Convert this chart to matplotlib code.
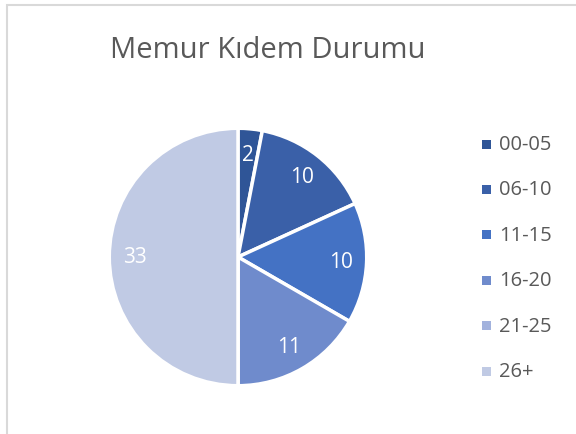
import matplotlib.pyplot as plt
from matplotlib.patches import Rectangle

# Veriler
labels = ['00-05', '06-10', '11-15', '16-20', '21-25', '26+']
values = [2, 10, 10, 11, 0, 33]
colors = ['#2F5597', '#3A60A8', '#4472C4', '#6F8BCC', '#A2B2DD', '#C0CAE4']

plt.rcParams['font.family'] = ['Open Sans', 'DejaVu Sans']

W, H = 576, 435
fig = plt.figure(figsize=(W / 100, H / 100), dpi=100)

# Rahmen
fig.patches.append(Rectangle((6.5 / W, -0.1), 1.2, 1 - 6 / H + 0.1,
                             transform=fig.transFigure, fill=False,
                             edgecolor='#D9D9D9', linewidth=1.5))

cx, cy, r = 238, 258, 130
ax = fig.add_axes([(cx - r) / W, (H - cy - r) / H, 2 * r / W, 2 * r / H])

wedges, texts = ax.pie(values, colors=colors, startangle=90, counterclock=False,
                       radius=1, labels=[str(v) if v > 0 else '' for v in values],
                       labeldistance=0.8,
                       wedgeprops=dict(edgecolor='white', linewidth=2.5))
for t in texts:
    t.set_color('white')
    t.set_fontsize(15)
    t.set_ha('center')
    t.set_va('center')
ax.set_xlim(-1.01, 1.01)
ax.set_ylim(-1.01, 1.01)
ax.set_aspect('equal')

fig.text(268 / W, 1 - 50 / H, 'Memur Kıdem Durumu', ha='center', va='center',
         fontsize=21, color='#595959')

# Lejant
for i, (lab, col) in enumerate(zip(labels, colors)):
    y = 145 + i * 45.4
    fig.patches.append(Rectangle((482 / W, 1 - (y + 4.5) / H), 9 / W, 9 / H,
                                 transform=fig.transFigure, facecolor=col,
                                 edgecolor='none'))
    fig.text(499 / W, 1 - y / H, lab, ha='left', va='center',
             fontsize=14.5, color='#595959')

fig.savefig('out.png', dpi=100)
